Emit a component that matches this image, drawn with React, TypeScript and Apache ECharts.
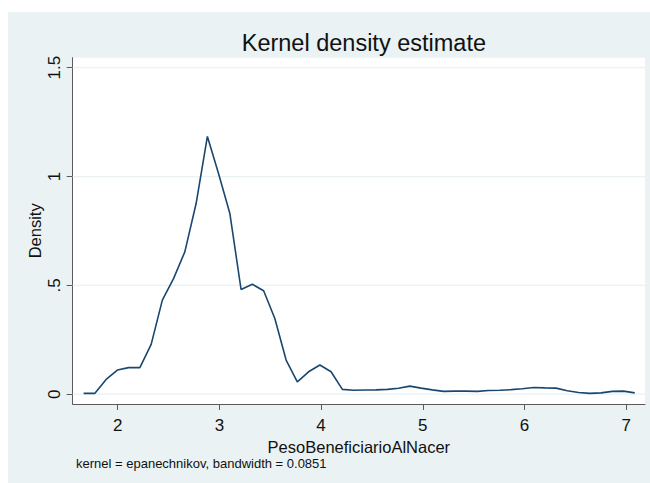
import React, { useEffect, useRef } from "react";
import * as echarts from "echarts";

const titleText = "Kernel density estimate";
const xAxisName = "PesoBeneficiarioAlNacer";
const yAxisName = "Density";
const footnote = "kernel = epanechnikov, bandwidth = 0.0851";

const xTicks = [2, 3, 4, 5, 6, 7];
const yTicks = [0, 0.5, 1, 1.5];
const yTickLabels = ["0", ".5", "1", "1.5"];

const gridX = [
  1.665, 1.776, 1.886, 1.997, 2.107, 2.218, 2.329, 2.439, 2.55, 2.66,
  2.771, 2.882, 2.992, 3.103, 3.213, 3.324, 3.435, 3.545, 3.656, 3.766,
  3.877, 3.988, 4.098, 4.209, 4.319, 4.43, 4.541, 4.651, 4.762, 4.872,
  4.983, 5.094, 5.204, 5.315, 5.425, 5.536, 5.647, 5.757, 5.868, 5.978,
  6.089, 6.2, 6.31, 6.421, 6.531, 6.642, 6.753, 6.863, 6.974, 7.084,
];
const density = [
  0.004, 0.004, 0.068, 0.111, 0.122, 0.122, 0.229, 0.432, 0.532, 0.654,
  0.876, 1.184, 1.013, 0.83, 0.481, 0.505, 0.475, 0.348, 0.157, 0.057,
  0.103, 0.134, 0.103, 0.022, 0.018, 0.019, 0.02, 0.022, 0.027, 0.037,
  0.028, 0.02, 0.013, 0.014, 0.014, 0.013, 0.017, 0.018, 0.021, 0.025,
  0.031, 0.029, 0.028, 0.016, 0.008, 0.004, 0.006, 0.013, 0.014, 0.006,
];

const FONT = "'Liberation Sans', Arial, sans-serif";
const BG = "#EAF2F3";
const AXIS = "#5a5a5a";
const LINE = "#1A476F";
const X_MIN = 1.5575;
const X_MAX = 7.1848;

export default function App() {
  const ref = useRef<HTMLDivElement>(null);

  useEffect(() => {
    document.body.style.margin = "0";
    if (!ref.current) return;
    const chart = echarts.init(ref.current, undefined, { renderer: "svg" });

    const left = 72.7;
    const right = 645;
    const top = 57.7;
    const bottom = 404;

    const gridSeries = yTicks.map((t) => ({
      type: "line",
      z: 1,
      silent: true,
      symbol: "none",
      showSymbol: false,
      data: [
        [X_MIN, t],
        [X_MAX, t],
      ],
      lineStyle: { color: BG, width: 1.2 },
    }));

    chart.setOption({
      animation: false,
      textStyle: { fontFamily: FONT },
      title: {
        text: titleText,
        left: (left + right) / 2,
        top: 26,
        textAlign: "center",
        textStyle: { fontSize: 23.5, fontWeight: "normal", color: "#111", fontFamily: FONT },
      },
      graphic: [
        {
          type: "rect",
          z: -10,
          silent: true,
          shape: { x: 8, y: 12, width: 642, height: 471 },
          style: { fill: BG },
        },
        {
          type: "text",
          x: 76,
          y: 463,
          style: {
            text: footnote,
            fontSize: 13,
            fontFamily: FONT,
            fill: "#111",
            textVerticalAlign: "middle",
            textAlign: "left",
          },
        },
      ],
      grid: {
        left: left,
        top: top,
        width: right - left,
        height: bottom - top,
        show: true,
        backgroundColor: "#ffffff",
        borderWidth: 0,
      },
      xAxis: {
        type: "value",
        min: X_MIN,
        max: X_MAX,
        name: xAxisName,
        nameLocation: "middle",
        nameGap: 29,
        nameTextStyle: { fontSize: 16.5, color: "#111", fontFamily: FONT },
        axisLine: { show: true, onZero: false, lineStyle: { color: AXIS, width: 1 } },
        axisTick: { show: true, length: 6, lineStyle: { color: AXIS }, customValues: xTicks },
        axisLabel: {
          customValues: xTicks,
          fontSize: 17,
          color: "#111",
          margin: 13,
          fontFamily: FONT,
        },
        splitLine: { show: false },
      },
      yAxis: {
        type: "value",
        min: -0.045,
        max: 1.5459,
        name: yAxisName,
        nameLocation: "middle",
        nameRotate: 90,
        nameGap: 29,
        nameMoveOverlap: false,
        nameTextStyle: { fontSize: 16.5, color: "#111", fontFamily: FONT },
        axisLine: { show: true, onZero: false, lineStyle: { color: AXIS, width: 1 } },
        axisTick: { show: true, length: 6, lineStyle: { color: AXIS }, customValues: yTicks },
        axisLabel: {
          customValues: yTicks,
          rotate: 90,
          fontSize: 17,
          color: "#111",
          margin: 10,
          fontFamily: FONT,
          formatter: (v: number) => {
            const idx = yTicks.findIndex((t) => Math.abs(t - v) < 1e-6);
            return idx >= 0 ? yTickLabels[idx] : "";
          },
        },
        splitLine: { show: false },
      },
      series: [
        ...gridSeries,
        {
          type: "line",
          z: 3,
          data: gridX.map((x, i) => [x, density[i]]),
          showSymbol: false,
          symbol: "none",
          lineStyle: { color: LINE, width: 1.6 },
        },
      ],
    });

    return () => chart.dispose();
  }, []);

  return <div ref={ref} style={{ width: 650, height: 483 }} />;
}
